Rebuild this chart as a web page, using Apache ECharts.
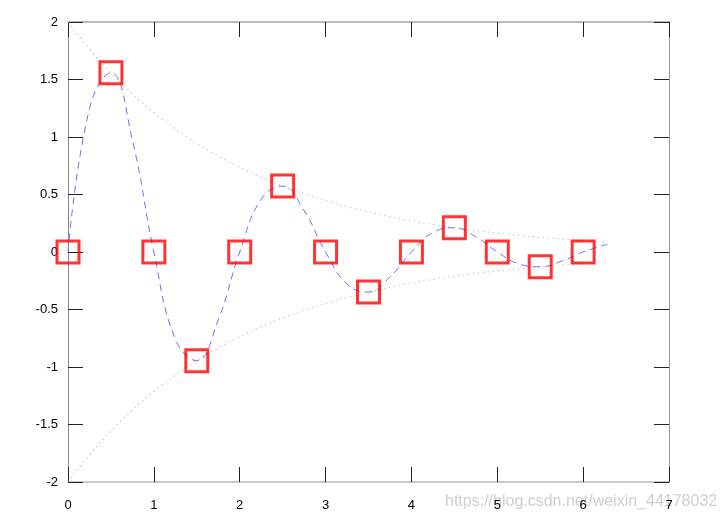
<!DOCTYPE html>
<html>
<head>
<meta charset="utf-8">
<script src="https://cdn.jsdelivr.net/npm/echarts@6/dist/echarts.min.js"></script>
<style>html,body{margin:0;padding:0;background:#fff}#c{width:726px;height:520px}</style>
</head>
<body>
<div id="c"></div>
<script>
// x positions of curve samples
var xs = [0,0.25,0.5,0.75,1,1.25,1.5,1.75,2,2.25,2.5,2.75,3,3.25,3.5,3.75,4,4.25,4.5,4.75,5,5.25,5.5,5.75,6,6.28];
// dashed damped oscillation
var curveY = [0,1.248,1.558,0.972,0,-0.757,-0.945,-0.590,0,0.459,0.573,0.358,0,-0.279,-0.348,-0.217,0,0.169,0.211,0.132,0,-0.103,-0.128,-0.080,0,0.067];
// dotted envelopes
var envUpper = [2,1.765,1.558,1.375,1.213,1.071,0.945,0.834,0.736,0.649,0.573,0.506,0.446,0.394,0.348,0.307,0.271,0.239,0.211,0.186,0.164,0.145,0.128,0.113,0.0996,0.0866];
var envLower = [-2,-1.765,-1.558,-1.375,-1.213,-1.071,-0.945,-0.834,-0.736,-0.649,-0.573,-0.506,-0.446,-0.394,-0.348,-0.307,-0.271,-0.239,-0.211,-0.186,-0.164,-0.145,-0.128,-0.113,-0.0996,-0.0866];
// square markers
var markX = [0,0.5,1,1.5,2,2.5,3,3.5,4,4.5,5,5.5,6];
var markY = [0,1.558,0,-0.945,0,0.573,0,-0.348,0,0.211,0,-0.128,0];
var xTicks = [0,1,2,3,4,5,6,7];
var yTicks = [-2,-1.5,-1,-0.5,0,0.5,1,1.5,2];
var watermark = 'https://blog.csdn.net/weixin_44178032';

function pairs(a,b){return a.map(function(v,i){return [v,b[i]];});}

var chart = echarts.init(document.getElementById('c'));
var tickStyle = {show:true, inside:true, length:15, lineStyle:{color:'#222', width:1}};
var font = {fontFamily:'Liberation Sans, Arial, sans-serif', fontSize:13, color:'#000'};
chart.setOption({
  animation:false,
  backgroundColor:'#fff',
  grid:{left:68, right:57, top:22, bottom:38},
  xAxis:[{
    type:'value', min:xTicks[0], max:xTicks[xTicks.length-1], interval:1, position:'bottom',
    axisLine:{show:true, onZero:false, lineStyle:{color:'#c8c8c8', width:2}},
    axisTick:tickStyle, splitLine:{show:false},
    axisLabel:Object.assign({margin:17}, font)
  },{
    type:'value', min:xTicks[0], max:xTicks[xTicks.length-1], interval:1, position:'top',
    axisLine:{show:true, onZero:false, lineStyle:{color:'#bbbbbb', width:2}},
    axisTick:tickStyle, splitLine:{show:false}, axisLabel:{show:false}
  }],
  yAxis:[{
    type:'value', min:yTicks[0], max:yTicks[yTicks.length-1], interval:0.5, position:'left',
    axisLine:{show:true, onZero:false, lineStyle:{color:'#888888', width:1}},
    axisTick:tickStyle, splitLine:{show:false},
    axisLabel:Object.assign({margin:10}, font)
  },{
    type:'value', min:yTicks[0], max:yTicks[yTicks.length-1], interval:0.5, position:'right',
    axisLine:{show:true, onZero:false, lineStyle:{color:'#999999', width:1}},
    axisTick:tickStyle, splitLine:{show:false}, axisLabel:{show:false}
  }],
  graphic:[{type:'text', left:445, top:494, z:-1, style:{text:watermark, fill:'rgba(190,190,190,0.75)', font:'16px "Liberation Sans", Arial, sans-serif'}}],
  series:[
    {type:'line', data:pairs(xs,envUpper), smooth:true, symbol:'none', lineStyle:{color:'#b0b0b0', width:1.2, type:[1,4]}, z:1},
    {type:'line', data:pairs(xs,envLower), smooth:true, symbol:'none', lineStyle:{color:'#b0b0b0', width:1.2, type:[1,4]}, z:1},
    {type:'line', data:pairs(xs,curveY), smooth:0.45, symbol:'none', lineStyle:{color:'#6f6fff', width:1, type:[7,5]}, z:2},
    {type:'scatter', data:pairs(markX,markY), symbol:'rect', symbolSize:22,
     itemStyle:{color:'rgba(0,0,0,0)', borderColor:'#ff0000', borderWidth:3}, z:3}
  ]
});
</script>
</body>
</html>
